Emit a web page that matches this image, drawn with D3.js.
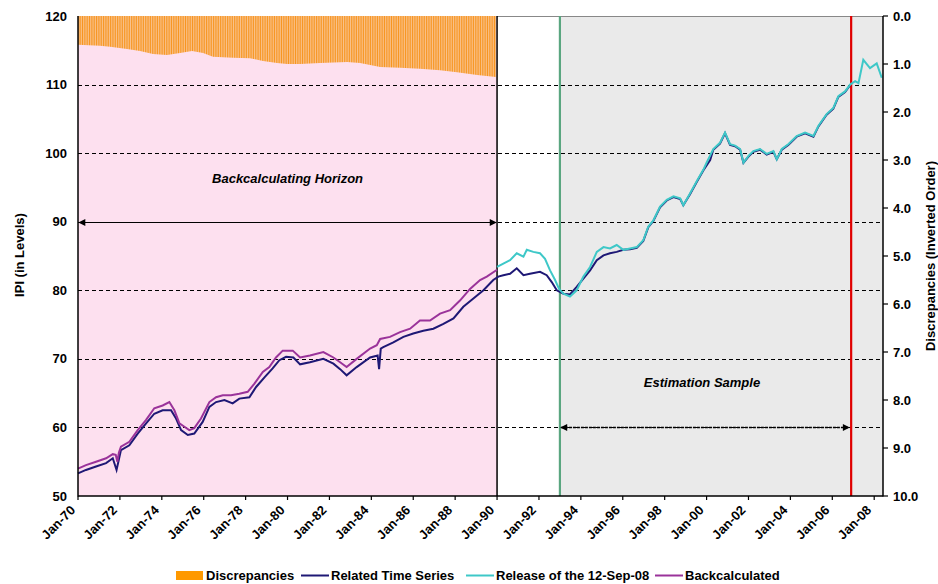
<!DOCTYPE html>
<html>
<head>
<meta charset="utf-8">
<script src="https://cdn.jsdelivr.net/npm/d3@7"></script>
<style>
  body { margin: 0; background: #fff; }
  svg text { font-family: "Liberation Sans", Arial, sans-serif; font-weight: bold; }
</style>
</head>
<body>
<svg width="938" height="584"></svg>
<script>
// values: [year, value]
const backcalculated = [
  [1970.0, 54.0], [1970.38, 54.5], [1970.86, 55.0], [1971.34, 55.5], [1971.66, 56.1], [1971.8, 56.0],
  [1971.88, 55.0], [1971.95, 56.3], [1972.05, 57.2], [1972.45, 57.9], [1972.85, 59.6], [1973.25, 61.1],
  [1973.64, 62.8], [1974.04, 63.2], [1974.36, 63.7], [1974.6, 62.5], [1974.84, 60.6], [1975.08, 60.1],
  [1975.31, 59.6], [1975.55, 59.9], [1975.87, 61.3], [1976.27, 63.7], [1976.59, 64.4], [1976.91, 64.7],
  [1977.3, 64.7], [1977.7, 64.9], [1978.1, 65.2], [1978.42, 66.4], [1978.82, 68.1], [1979.13, 68.8],
  [1979.45, 70.2], [1979.77, 71.2], [1980.25, 71.2], [1980.6, 70.2], [1981.07, 70.5], [1981.71, 71.0],
  [1982.19, 70.2], [1982.51, 69.5], [1982.82, 68.8], [1983.3, 70.0], [1983.94, 71.5], [1984.26, 72.0],
  [1984.42, 72.9], [1984.89, 73.2], [1985.37, 73.9], [1985.85, 74.4], [1986.32, 75.6], [1986.8, 75.6],
  [1987.28, 76.6], [1987.76, 77.1], [1988.23, 78.5], [1988.71, 80.2], [1989.19, 81.5], [1989.51, 82.0],
  [1990.0, 83.0]
];

const relatedSeries = [
  [1970.0, 53.3], [1970.38, 53.8], [1970.86, 54.3], [1971.34, 54.8], [1971.66, 55.5], [1971.84, 53.8],
  [1972.05, 56.7], [1972.45, 57.4], [1972.85, 59.1], [1973.25, 60.6], [1973.64, 62.0], [1974.04, 62.5],
  [1974.44, 62.5], [1974.68, 61.3], [1974.92, 59.6], [1975.24, 58.9], [1975.55, 59.1], [1975.95, 60.8],
  [1976.27, 63.0], [1976.59, 63.7], [1976.99, 64.0], [1977.38, 63.5], [1977.7, 64.2], [1978.18, 64.4],
  [1978.5, 65.9], [1978.9, 67.3], [1979.29, 68.6], [1979.61, 69.8], [1979.93, 70.3], [1980.28, 70.2],
  [1980.6, 69.2], [1981.07, 69.5], [1981.71, 70.0], [1982.19, 69.3], [1982.51, 68.5], [1982.82, 67.6],
  [1983.3, 68.8], [1983.94, 70.2], [1984.3, 70.5], [1984.37, 68.5], [1984.45, 71.5], [1984.57, 71.7],
  [1985.05, 72.4], [1985.53, 73.2], [1986.0, 73.7], [1986.48, 74.1], [1986.96, 74.4], [1987.44, 75.1],
  [1987.92, 75.9], [1988.39, 77.6], [1988.87, 78.8], [1989.35, 80.0], [1989.82, 81.5], [1990.06, 82.0],
  [1990.3, 82.2], [1990.62, 82.4], [1990.94, 83.2], [1991.26, 82.2], [1991.57, 82.4], [1992.05, 82.7],
  [1992.37, 82.2], [1992.61, 81.2], [1992.85, 80.0], [1993.17, 79.5], [1993.48, 79.4], [1993.8, 80.5],
  [1994.12, 81.7], [1994.44, 82.9], [1994.76, 84.4], [1995.08, 85.1], [1995.39, 85.4], [1995.71, 85.6],
  [1996.03, 85.9], [1996.35, 86.0], [1996.67, 86.2], [1996.98, 87.2], [1997.22, 89.2], [1997.46, 90.1],
  [1997.78, 92.1], [1998.1, 93.1], [1998.42, 93.6], [1998.74, 93.3], [1998.89, 92.4], [1999.21, 94.0],
  [1999.53, 95.8], [1999.85, 97.5], [2000.17, 99.0], [2000.32, 100.5], [2000.64, 101.4], [2000.88, 102.9],
  [2001.12, 101.2], [2001.36, 101.0], [2001.6, 100.5], [2001.76, 98.6], [2002.0, 99.5], [2002.23, 100.2],
  [2002.55, 100.5], [2002.87, 99.8], [2003.19, 100.2], [2003.35, 99.1], [2003.59, 100.5], [2003.9, 101.2],
  [2004.3, 102.4], [2004.7, 102.9], [2005.1, 102.4], [2005.34, 103.9], [2005.73, 105.6], [2006.05, 106.5],
  [2006.29, 108.2], [2006.61, 108.9], [2006.85, 109.9]
];

const release12Sep08 = [
  [1990.0, 83.4], [1990.3, 83.9], [1990.62, 84.4], [1990.94, 85.4], [1991.26, 84.9], [1991.42, 85.9],
  [1991.73, 85.6], [1992.05, 85.4], [1992.29, 84.6], [1992.53, 82.9], [1992.77, 81.5], [1992.96, 80.2],
  [1993.17, 79.5], [1993.48, 79.1], [1993.8, 80.0], [1994.12, 82.0], [1994.44, 83.4], [1994.76, 85.6],
  [1995.08, 86.3], [1995.39, 86.1], [1995.71, 86.6], [1996.03, 85.9], [1996.35, 86.1], [1996.67, 86.3],
  [1996.98, 87.3], [1997.22, 89.3], [1997.46, 90.2], [1997.78, 92.2], [1998.1, 93.2], [1998.42, 93.7],
  [1998.74, 93.4], [1998.89, 92.4], [1999.21, 94.1], [1999.53, 95.9], [1999.85, 97.6], [2000.0, 98.6],
  [2000.32, 100.6], [2000.64, 101.5], [2000.88, 103.0], [2001.12, 101.3], [2001.36, 101.1], [2001.6, 100.6],
  [2001.76, 98.6], [2002.0, 99.6], [2002.23, 100.3], [2002.55, 100.6], [2002.87, 99.9], [2003.19, 100.3],
  [2003.35, 99.1], [2003.59, 100.6], [2003.9, 101.3], [2004.3, 102.5], [2004.7, 103.0], [2005.1, 102.5],
  [2005.34, 104.0], [2005.73, 105.7], [2006.05, 106.6], [2006.29, 108.3], [2006.61, 109.0], [2006.85, 110.0],
  [2007.09, 110.5], [2007.25, 110.2], [2007.48, 113.6], [2007.8, 112.4], [2008.12, 113.1], [2008.36, 111.0]
];

// discrepancies, right axis (inverted)
const discrepancies = [
  [1970.0, 0.60], [1971.05, 0.62], [1971.53, 0.64], [1972.34, 0.69], [1972.96, 0.73], [1973.58, 0.79],
  [1974.25, 0.81], [1974.87, 0.77], [1975.44, 0.73], [1975.97, 0.77], [1976.44, 0.85], [1977.4, 0.87],
  [1978.21, 0.88], [1978.83, 0.94], [1979.5, 0.98], [1979.98, 1.0], [1980.6, 1.0], [1981.55, 0.98],
  [1982.84, 0.96], [1983.46, 0.98], [1984.42, 1.06], [1985.37, 1.08], [1986.32, 1.10], [1987.28, 1.13],
  [1988.09, 1.17], [1989.05, 1.23], [1989.95, 1.27]
];

const yearTicks = d3.range(1970, 2009, 2);
const leftTicks = [50, 60, 70, 80, 90, 100, 110, 120];
const rightTicks = d3.range(0, 11, 1);

const backcalcPeriod = [1970, 1990];
const estimationStart = 1993;
const estimationEnd = 2006.9;

const svg = d3.select("svg");
const pL = 78, pR = 883, pT = 16, pB = 496;
const fs = 13;

const x = d3.scaleLinear().domain([1970, 2008.42]).range([pL, pR]);
const y = d3.scaleLinear().domain([50, 120]).range([pB, pT]);
const y2 = d3.scaleLinear().domain([0, 10]).range([pT, pB]);

const defs = svg.append("defs");
const pat = defs.append("pattern")
  .attr("id", "stripes")
  .attr("patternUnits", "userSpaceOnUse")
  .attr("width", 20.95 / 12)
  .attr("height", 10);
pat.append("rect").attr("width", 20.95 / 12).attr("height", 10).attr("fill", "#fbd2b4");
pat.append("rect").attr("width", 1.1).attr("height", 10).attr("fill", "#f7951f");

defs.append("marker")
  .attr("id", "arrow")
  .attr("viewBox", "0 0 10 10")
  .attr("refX", 9).attr("refY", 5)
  .attr("markerWidth", 9).attr("markerHeight", 7)
  .attr("markerUnits", "userSpaceOnUse")
  .attr("orient", "auto-start-reverse")
  .append("path").attr("d", "M0,0 L10,5 L0,10 Z").attr("fill", "#000");

// background zones
svg.append("rect")
  .attr("x", x(backcalcPeriod[0])).attr("y", pT)
  .attr("width", x(backcalcPeriod[1]) - x(backcalcPeriod[0])).attr("height", pB - pT)
  .attr("fill", "#fde0ef");
svg.append("rect")
  .attr("x", x(estimationStart)).attr("y", pT)
  .attr("width", pR - x(estimationStart)).attr("height", pB - pT)
  .attr("fill", "#eaeaea");

// discrepancies (dense columns)
svg.append("path")
  .datum(discrepancies)
  .attr("fill", "url(#stripes)")
  .attr("d", d3.area()
    .x(d => x(d[0]))
    .y0(y2(0))
    .y1(d => y2(d[1])));

// top border
svg.append("line")
  .attr("x1", x(1990)).attr("x2", pR).attr("y1", pT + 0.5).attr("y2", pT + 0.5)
  .attr("stroke", "#888").attr("stroke-width", 1);

// gridlines
svg.append("g").selectAll("line")
  .data(leftTicks.filter(v => v > 50 && v < 120))
  .join("line")
  .attr("x1", pL).attr("x2", pR)
  .attr("y1", d => Math.round(y(d)) + 0.5).attr("y2", d => Math.round(y(d)) + 0.5)
  .attr("stroke", "#000").attr("stroke-width", 1).attr("stroke-dasharray", "4,3");

// vertical markers
svg.append("line")
  .attr("x1", x(1990)).attr("x2", x(1990)).attr("y1", pT).attr("y2", pB)
  .attr("stroke", "#000").attr("stroke-width", 1.5);
svg.append("line")
  .attr("x1", x(estimationStart)).attr("x2", x(estimationStart)).attr("y1", pT).attr("y2", pB)
  .attr("stroke", "#5aa680").attr("stroke-width", 2.2);
svg.append("line")
  .attr("x1", x(estimationEnd)).attr("x2", x(estimationEnd)).attr("y1", pT).attr("y2", pB)
  .attr("stroke", "#e00000").attr("stroke-width", 2.2);

// series
const line = d3.line().x(d => x(d[0])).y(d => y(d[1]));
svg.append("path").datum(relatedSeries)
  .attr("fill", "none").attr("stroke", "#1e1875").attr("stroke-width", 2).attr("d", line);
svg.append("path").datum(release12Sep08)
  .attr("fill", "none").attr("stroke", "#3ec8c8").attr("stroke-width", 2).attr("d", line);
svg.append("path").datum(backcalculated)
  .attr("fill", "none").attr("stroke", "#9a339a").attr("stroke-width", 2).attr("d", line);

// arrows and annotations
svg.append("line")
  .attr("x1", x(backcalcPeriod[0]) + 1).attr("x2", x(backcalcPeriod[1]) - 1)
  .attr("y1", Math.round(y(90)) + 0.5).attr("y2", Math.round(y(90)) + 0.5)
  .attr("stroke", "#000").attr("stroke-width", 1.2)
  .attr("marker-start", "url(#arrow)").attr("marker-end", "url(#arrow)");
svg.append("line")
  .attr("x1", x(estimationStart) + 1).attr("x2", x(estimationEnd) - 2)
  .attr("y1", Math.round(y(60)) + 0.5).attr("y2", Math.round(y(60)) + 0.5)
  .attr("stroke", "#000").attr("stroke-width", 1.5).attr("stroke-dasharray", "3,1")
  .attr("marker-start", "url(#arrow)").attr("marker-end", "url(#arrow)");

svg.append("text")
  .attr("x", (x(backcalcPeriod[0]) + x(backcalcPeriod[1])) / 2).attr("y", 183)
  .attr("text-anchor", "middle").attr("font-size", fs).attr("font-style", "italic")
  .text("Backcalculating Horizon");
svg.append("text")
  .attr("x", 702).attr("y", 387)
  .attr("text-anchor", "middle").attr("font-size", fs).attr("font-style", "italic")
  .text("Estimation Sample");

// axes
const axisG = svg.append("g");
axisG.append("line").attr("x1", pL).attr("x2", pL).attr("y1", pT).attr("y2", pB + 0.5)
  .attr("stroke", "#000").attr("stroke-width", 1.5);
axisG.append("line").attr("x1", pR).attr("x2", pR).attr("y1", pT).attr("y2", pB + 0.5)
  .attr("stroke", "#000").attr("stroke-width", 1.5);
axisG.append("line").attr("x1", pL).attr("x2", pR).attr("y1", pB).attr("y2", pB)
  .attr("stroke", "#000").attr("stroke-width", 1.5);

axisG.selectAll(".ltick").data(leftTicks).join("text")
  .attr("x", 67).attr("y", d => y(d)).attr("dy", "0.35em")
  .attr("text-anchor", "end").attr("font-size", fs).text(d => d);

axisG.selectAll(".rtickline").data(rightTicks).join("line")
  .attr("x1", pR).attr("x2", pR + 5)
  .attr("y1", d => y2(d)).attr("y2", d => y2(d))
  .attr("stroke", "#000").attr("stroke-width", 1.2);
axisG.selectAll(".rtick").data(rightTicks).join("text")
  .attr("x", 893).attr("y", d => y2(d)).attr("dy", "0.35em")
  .attr("font-size", fs).text(d => d.toFixed(1));

axisG.selectAll(".xtickline").data(yearTicks).join("line")
  .attr("x1", d => x(d)).attr("x2", d => x(d)).attr("y1", pB).attr("y2", pB + 4)
  .attr("stroke", "#000").attr("stroke-width", 1.2);
axisG.selectAll(".xtick").data(yearTicks).join("text")
  .attr("transform", d => `translate(${x(d) - 2},${pB + 15}) rotate(-45)`)
  .attr("text-anchor", "end").attr("font-size", fs)
  .text(d => "Jan-" + String(d % 100).padStart(2, "0"));

svg.append("text")
  .attr("transform", `translate(24,255) rotate(-90)`)
  .attr("text-anchor", "middle").attr("font-size", fs).text("IPI (in Levels)");
svg.append("text")
  .attr("transform", `translate(935,256) rotate(-90)`)
  .attr("text-anchor", "middle").attr("font-size", fs).text("Discrepancies (Inverted Order)");

// legend
const lg = svg.append("g");
lg.append("rect").attr("x", 176).attr("y", 571).attr("width", 27).attr("height", 9).attr("fill", "#ff9900");
lg.append("text").attr("x", 206).attr("y", 580).attr("font-size", fs).text("Discrepancies");
const legendLines = [
  { x0: 301, label: "Related Time Series", color: "#1e1875" },
  { x0: 466, label: "Release of the 12-Sep-08", color: "#3ec8c8" },
  { x0: 655, label: "Backcalculated", color: "#9a339a" }
];
legendLines.forEach(d => {
  lg.append("line").attr("x1", d.x0).attr("x2", d.x0 + 28).attr("y1", 575.5).attr("y2", 575.5)
    .attr("stroke", d.color).attr("stroke-width", 2);
  lg.append("text").attr("x", d.x0 + 30).attr("y", 580).attr("font-size", fs).text(d.label);
});
</script>
</body>
</html>
